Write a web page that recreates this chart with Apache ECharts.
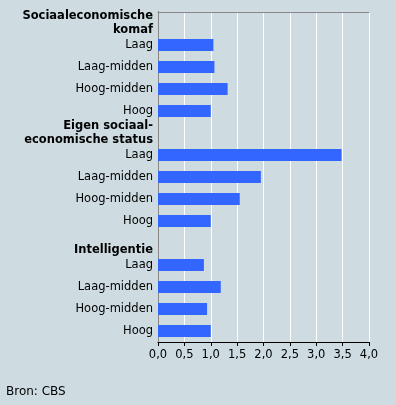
<!DOCTYPE html>
<html><head><meta charset="utf-8">
<script src="https://cdn.jsdelivr.net/npm/echarts@6/dist/echarts.min.js"></script>
<style>html,body{margin:0;padding:0;background:#cedce2;}#c{width:396px;height:405px;}</style>
</head><body><div id="c"></div>
<script>
var headings = ['Sociaaleconomische\nkomaf', 'Eigen sociaal-\neconomische status', '\nIntelligentie'];
var levels = ['Laag', 'Laag-midden', 'Hoog-midden', 'Hoog'];
var komafValues = [1.05, 1.07, 1.32, 1.0];
var statusValues = [3.48, 1.95, 1.55, 1.0];
var intelValues = [0.87, 1.19, 0.93, 1.0];
var tickValues = [0, 0.5, 1, 1.5, 2, 2.5, 3, 3.5, 4];
var source = 'Bron: CBS';

var categories = [], values = [], isHeading = [];
[komafValues, statusValues, intelValues].forEach(function (vals, g) {
  categories.push(headings[g]); values.push(null); isHeading.push(true);
  levels.forEach(function (l, i) { categories.push(l); values.push(vals[i]); isHeading.push(false); });
});

var chart = echarts.init(document.getElementById('c'));
var font = 'DejaVu Sans';
chart.setOption({
  backgroundColor: '#cedce2',
  animation: false,
  textStyle: { fontFamily: font },
  graphic: [{ type: 'text', left: 6, top: 386, style: { text: source, fontFamily: font, fontSize: 12, fill: '#000' } }],
  grid: { left: 158, right: 27, top: 12, bottom: 63, containLabel: false },
  xAxis: [{
    type: 'value', min: 0, max: 4, interval: 0.5, position: 'bottom',
    axisLine: { show: true, lineStyle: { color: '#000', width: 1 } },
    axisTick: { show: true, length: 4, lineStyle: { color: '#000' } },
    axisLabel: { color: '#000', fontSize: 11.5, fontFamily: font, margin: 7,
      formatter: function (v) { return v.toFixed(1).replace('.', ','); } },
    splitLine: { show: true, lineStyle: { color: '#fff', width: 1 } }
  }, {
    type: 'value', min: 0, max: 4, interval: 0.5, position: 'top',
    axisLine: { show: true, lineStyle: { color: '#888', width: 1 } },
    axisTick: { show: false }, axisLabel: { show: false }, splitLine: { show: false }
  }],
  yAxis: [{
    type: 'category', data: categories, inverse: true,
    axisLine: { show: true, lineStyle: { color: '#000', width: 1 } },
    axisTick: { show: false },
    axisLabel: {
      interval: 0, margin: 5, fontSize: 11.5, color: '#000', fontFamily: font,
      formatter: function (v, i) {
        var st = isHeading[i] ? 'b' : 'n';
        return v.split('\n').map(function (s) { return '{' + st + '|' + (s || ' ') + '}'; }).join('\n');
      },
      rich: {
        b: { fontWeight: 'bold', fontSize: 11.5, lineHeight: 14, fontFamily: font, color: '#000', align: 'right' },
        n: { fontSize: 11.5, lineHeight: 14, fontFamily: font, color: '#000', align: 'right' }
      }
    },
    splitLine: { show: false }
  }, {
    type: 'category', data: categories, inverse: true, position: 'right',
    axisLine: { show: true, lineStyle: { color: '#888', width: 1 } },
    axisTick: { show: false }, axisLabel: { show: false }, splitLine: { show: false }
  }],
  series: [{
    type: 'bar', data: values, barWidth: 12, itemStyle: { color: '#3366ff' }, xAxisIndex: 0, yAxisIndex: 0
  }]
});
</script></body></html>
